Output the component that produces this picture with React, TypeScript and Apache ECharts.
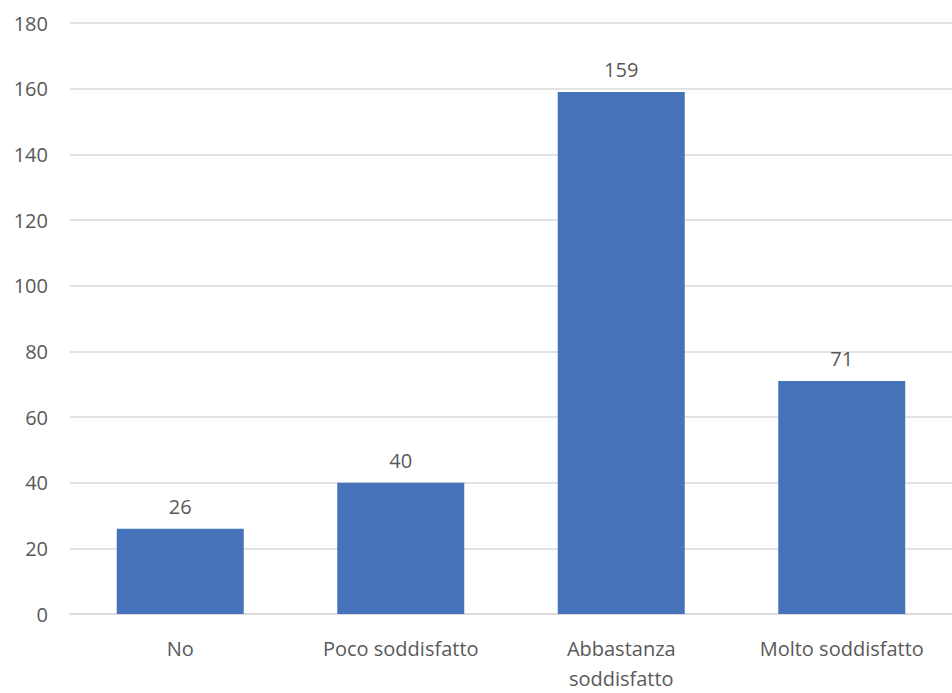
import React, { useEffect, useRef } from "react";
import * as echarts from "echarts";

const categories = ["No", "Poco soddisfatto", "Abbastanza\nsoddisfatto", "Molto soddisfatto"];
const values = [26, 40, 159, 71];
const yTicks = { min: 0, max: 180, interval: 20 };

const TEXT = "#595959";
const GRID = "#d9d9d9";
const BAR = "#4672B9";
const FONT = "'Open Sans', 'Noto Sans', sans-serif";

export default function App() {
  const ref = useRef<HTMLDivElement>(null);

  useEffect(() => {
    if (!ref.current) return;
    const chart = echarts.init(ref.current, undefined, { renderer: "svg" });
    chart.setOption({
      animation: false,
      backgroundColor: "#ffffff",
      textStyle: { fontFamily: FONT },
      grid: { left: 70, top: 23, width: 892, height: 599, containLabel: false },
      xAxis: {
        type: "category",
        data: categories,
        axisLine: { show: true, lineStyle: { color: GRID, width: 1.5 } },
        axisTick: { show: false },
        axisLabel: {
          color: TEXT,
          fontSize: 20,
          fontFamily: FONT,
          margin: 19,
          lineHeight: 30,
          interval: 0,
        },
      },
      yAxis: {
        type: "value",
        min: yTicks.min,
        max: yTicks.max,
        interval: yTicks.interval,
        axisLine: { show: false },
        axisTick: { show: false },
        splitLine: { lineStyle: { color: GRID, width: 1.5 } },
        axisLabel: { color: TEXT, fontSize: 20, fontFamily: FONT, margin: 22 },
      },
      series: [
        {
          type: "bar",
          data: values,
          barWidth: 127,
          itemStyle: { color: BAR },
          label: {
            show: true,
            position: "top",
            distance: 12,
            color: TEXT,
            fontSize: 20,
            fontFamily: FONT,
          },
        },
      ],
    });
    return () => chart.dispose();
  }, []);

  return (
    <div
      ref={ref}
      style={{ position: "fixed", left: 0, top: 0, width: 952, height: 693, background: "#fff" }}
    />
  );
}
